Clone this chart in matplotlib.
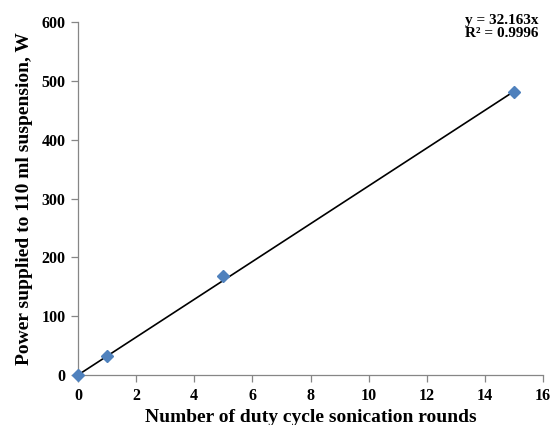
import matplotlib
matplotlib.use("Agg")
import matplotlib.pyplot as plt
import numpy as np

rounds = [0, 1, 5, 15]
power = [0, 33, 168, 481]
slope = 32.163
eq_text = "y = 32.163x\nR² = 0.9996"
xlabel = "Number of duty cycle sonication rounds"
ylabel = "Power supplied to 110 ml suspension, W"

plt.rcParams['font.family'] = ['Liberation Serif', 'DejaVu Serif']
plt.rcParams['font.weight'] = 'bold'

fig = plt.figure(figsize=(5.53, 4.25), dpi=100)
ax = fig.add_axes([0.141, 0.1176, 0.841, 0.830])

xs = np.array([0, max(rounds)])
ax.plot(xs, slope * xs, color='black', lw=1.2, zorder=2)
ax.plot(rounds, power, linestyle='none', marker='D', markersize=6,
        color='#4F81BD', zorder=3, clip_on=False)

ax.set_xlim(0, 16)
ax.set_ylim(0, 600)
ax.set_xticks(range(0, 17, 2))
ax.set_yticks(range(0, 601, 100))
for s in ['top', 'right']:
    ax.spines[s].set_visible(False)
for s in ['left', 'bottom']:
    ax.spines[s].set_color('#868686')
    ax.spines[s].set_linewidth(0.9)
ax.tick_params(axis='both', direction='out', length=5, width=0.9, color='#868686',
               labelsize=11.5, pad=4)
for lab in ax.get_xticklabels() + ax.get_yticklabels():
    lab.set_fontweight('bold')

ax.set_xlabel(xlabel, fontsize=14, fontweight='bold', labelpad=4)
ax.set_ylabel(ylabel, fontsize=14, fontweight='bold', labelpad=6)

fig.text(0.973, 0.968, eq_text, ha='right', va='top', fontsize=11,
         fontweight='bold', linespacing=1.0)

fig.savefig("out.png", dpi=100)
